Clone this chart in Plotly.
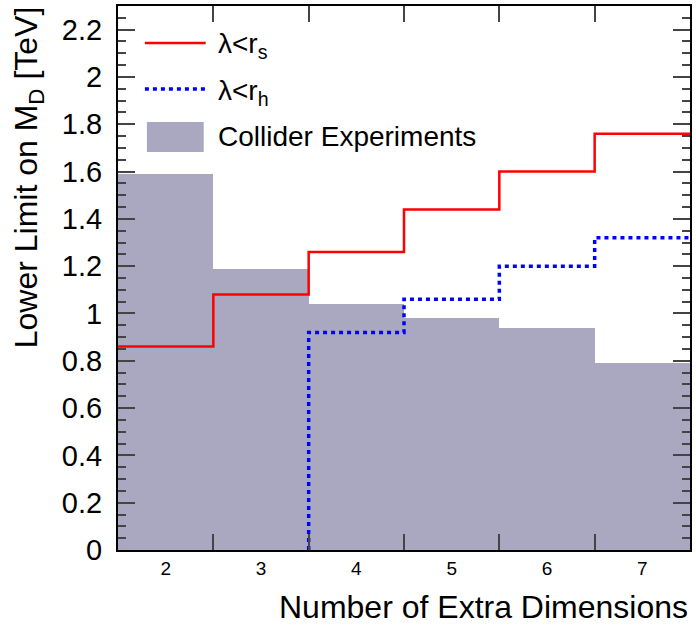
import plotly.graph_objects as go

# ---- data ----
dimensions = [2, 3, 4, 5, 6, 7]
collider_limits = [1.59, 1.19, 1.04, 0.98, 0.94, 0.79]
limit_lambda_rs = [0.86, 1.08, 1.26, 1.44, 1.60, 1.76]
limit_lambda_rh = [None, None, 0.92, 1.06, 1.20, 1.32]
tick_labels = ["2", "3", "4", "5", "6", "7"]

FONT = "Liberation Sans, Arial, Helvetica, sans-serif"
FILL = "#aaa7c0"

edges = [d - 0.5 for d in dimensions] + [dimensions[-1] + 0.5]


def step_xy(values):
    xs, ys = [], []
    first = True
    for i, v in enumerate(values):
        if v is None:
            continue
        if first and i > 0:
            xs.append(edges[i]); ys.append(0)
        first = False
        xs.append(edges[i]); ys.append(v)
    last = [v for v in values if v is not None][-1]
    xs.append(edges[-1]); ys.append(last)
    return xs, ys


fig = go.Figure()
fig.add_trace(go.Bar(x=dimensions, y=collider_limits, width=1.0,
                     marker=dict(color=FILL, line=dict(width=0)),
                     name="Collider Experiments", showlegend=False))

xs, ys = step_xy(limit_lambda_rs)
fig.add_trace(go.Scatter(x=xs, y=ys, mode="lines", line_shape="hv",
                         line=dict(color="#ff0000", width=2.5),
                         name="λ<r_s", showlegend=False))

xh, yh = step_xy(limit_lambda_rh)
fig.add_trace(go.Scatter(x=xh, y=yh, mode="lines", line_shape="hv",
                         line=dict(color="#0000ff", width=3.5, dash="4px,4px"),
                         name="λ<r_h", showlegend=False))

L, R, T, B = 118, 4, 6, 76
W, H = 696, 626
pw, ph = W - L - R, H - T - B


def px(x):
    return (x - L) / pw


def py(y):
    return (H - B - y) / ph


# manual ROOT-style legend
fig.add_shape(type="line", xref="paper", yref="paper",
              x0=px(145), x1=px(206), y0=py(43), y1=py(43),
              line=dict(color="#ff0000", width=2.5))
fig.add_shape(type="line", xref="paper", yref="paper",
              x0=px(145), x1=px(206), y0=py(89), y1=py(89),
              line=dict(color="#0000ff", width=3.5, dash="4px,4px"))
fig.add_shape(type="rect", xref="paper", yref="paper",
              x0=px(147), x1=px(204), y0=py(152), y1=py(122),
              fillcolor=FILL, line=dict(width=0))

legend_texts = ["λ<r<sub>s</sub>", "λ<r<sub>h</sub>", "Collider Experiments"]
legend_y = [46, 92, 136]
for t, yy in zip(legend_texts, legend_y):
    fig.add_annotation(text=t, xref="paper", yref="paper", x=px(216), y=py(yy),
                       xanchor="left", yanchor="middle", showarrow=False,
                       font=dict(family=FONT, size=28, color="black"))

# axis titles
fig.add_annotation(text="Number of Extra Dimensions", xref="paper", yref="paper",
                   x=px(692), y=py(607), xanchor="right", yanchor="middle",
                   showarrow=False, font=dict(family=FONT, size=32, color="black"))
fig.add_annotation(text="Lower Limit on M<sub>D</sub> [TeV]", xref="paper", yref="paper",
                   x=px(28), y=py(4), xanchor="center", yanchor="top", textangle=-90,
                   showarrow=False, font=dict(family=FONT, size=32, color="black"))

fig.update_layout(
    width=W, height=H,
    margin=dict(l=L, r=R, t=T, b=B),
    paper_bgcolor="white", plot_bgcolor="white",
    bargap=0, showlegend=False,
    font=dict(family=FONT, color="black"),
)
fig.update_xaxes(
    range=[edges[0], edges[-1]],
    tickmode="array", tickvals=dimensions, ticktext=tick_labels,
    ticks="inside", ticklen=0, tickfont=dict(size=19, family=FONT),
    minor=dict(tickmode="array", tickvals=edges[1:-1], ticks="inside",
               ticklen=16, tickwidth=2, tickcolor="#444"),
    showline=True, linecolor="black", linewidth=2, mirror="ticks",
    showgrid=False, zeroline=False, ticklabelstandoff=0,
)
fig.update_yaxes(
    range=[0, 2.3], tick0=0, dtick=0.2,
    ticks="inside", ticklen=17, tickwidth=2, tickcolor="#444",
    tickfont=dict(size=29, family=FONT),
    minor=dict(dtick=0.05, ticks="inside", ticklen=8, tickwidth=2, tickcolor="#444"),
    showline=True, linecolor="black", linewidth=2, mirror="ticks",
    showgrid=False, zeroline=False, ticklabelstandoff=8,
)

fig.write_html("out.html", config={"displayModeBar": False},
               post_script="document.body.style.margin='0px';document.body.style.overflow='hidden';")
